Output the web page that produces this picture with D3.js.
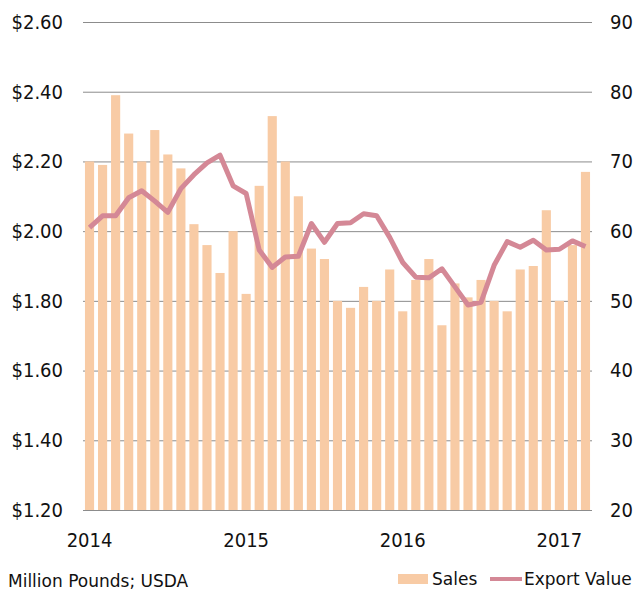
<!DOCTYPE html>
<html>
<head>
<meta charset="utf-8">
<script src="https://d3js.org/d3.v7.min.js"></script>
<style>
  body { margin: 0; background: #fff; }
  text { font-family: "DejaVu Sans Condensed", "Liberation Sans", sans-serif; fill: #111; }
  .legend text { font-family: "DejaVu Sans", sans-serif; }
</style>
</head>
<body>
<svg id="chart"></svg>
<script>
// Monthly data, Jan 2014 .. Mar 2017
var months = d3.range(39).map(function(i) { return new Date(2014, i, 1) })

// Sales, left axis ($)
var sales = [2.20, 2.19, 2.39, 2.28, 2.20, 2.29, 2.22, 2.18, 2.02, 1.96, 1.88, 2.00,
             1.82, 2.13, 2.33, 2.20, 2.10, 1.95, 1.92, 1.80, 1.78, 1.84, 1.80, 1.89,
             1.77, 1.86, 1.92, 1.73, 1.85, 1.81, 1.86, 1.80, 1.77, 1.89, 1.90, 2.06,
             1.80, 1.96, 2.17]

// Export value, right axis
var exportValue = [60.5, 62.2, 62.2, 64.8, 65.8, 64.3, 62.7, 66.1, 68.1, 69.8, 70.9, 66.5,
                   65.4, 57.3, 54.8, 56.3, 56.4, 61.1, 58.4, 61.1, 61.2, 62.5, 62.2, 59.1,
                   55.5, 53.4, 53.3, 54.6, 52.0, 49.4, 49.8, 55.1, 58.5, 57.7, 58.7, 57.3,
                   57.4, 58.6, 57.8]

var leftTicks = [1.2, 1.4, 1.6, 1.8, 2.0, 2.2, 2.4, 2.6]
var rightTicks = [20, 30, 40, 50, 60, 70, 80, 90]
var yearTicks = [2014, 2015, 2016, 2017]

var vis = {
  "width": 637,
  "height": 591,
  "plot": { "left": 83, "right": 592, "top": 22, "bottom": 510 },
  "colors": { "bar": "#f8cba5", "line": "#d48896", "grid": "#8c8c8c" },
  "barpad": 0.3
}

function main() {
  let p = vis.plot
  let svg = d3.select("#chart")
    .attr("width", vis.width)
    .attr("height", vis.height)

  let xScale = d3.scaleBand()
    .domain(d3.range(months.length))
    .range([p.left, p.right])
    .paddingInner(vis.barpad)
    .paddingOuter(vis.barpad / 2)

  let yLeft = d3.scaleLinear().domain([1.2, 2.6]).range([p.bottom, p.top])
  let yRight = d3.scaleLinear().domain([20, 90]).range([p.bottom, p.top])

  // gridlines (from the left axis ticks)
  svg.append("g")
    .attr("transform", "translate(" + p.left + ",0)")
    .call(d3.axisLeft(yLeft).tickValues(leftTicks).tickSize(-(p.right - p.left)).tickFormat(""))
    .call(function(g) { g.select(".domain").remove() })
    .selectAll("line")
    .attr("stroke", vis.colors.grid)

  // bars
  svg.append("g")
    .selectAll("rect")
    .data(sales)
    .enter()
    .append("rect")
    .attr("x", function(d, i) { return xScale(i) })
    .attr("y", function(d) { return yLeft(d) })
    .attr("width", xScale.bandwidth())
    .attr("height", function(d) { return yLeft(1.2) - yLeft(d) })
    .attr("fill", vis.colors.bar)

  // export value line
  let line = d3.line()
    .x(function(d, i) { return xScale(i) + xScale.bandwidth() / 2 })
    .y(function(d) { return yRight(d) })

  svg.append("path")
    .datum(exportValue)
    .attr("d", line)
    .attr("fill", "none")
    .attr("stroke", vis.colors.line)
    .attr("stroke-width", 5)
    .attr("stroke-linejoin", "round")

  // left axis labels
  svg.append("g")
    .attr("transform", "translate(" + (p.left - 20) + ",0)")
    .call(d3.axisLeft(yLeft).tickValues(leftTicks).tickSize(0).tickPadding(0)
      .tickFormat(function(d) { return "$" + d3.format(".2f")(d) }))
    .call(function(g) { g.select(".domain").remove() })
    .selectAll("text")
    .style("font-size", "20px")

  // right axis labels
  svg.append("g")
    .attr("transform", "translate(" + (p.right + 18) + ",0)")
    .call(d3.axisRight(yRight).tickValues(rightTicks).tickSize(0).tickPadding(0))
    .call(function(g) { g.select(".domain").remove() })
    .selectAll("text")
    .style("font-size", "20px")

  // year labels at January of each year
  svg.append("g")
    .attr("transform", "translate(0," + (p.bottom + 23) + ")")
    .call(d3.axisBottom(xScale)
      .tickValues(yearTicks.map(function(y) { return (y - 2014) * 12 }))
      .tickSize(0).tickPadding(0)
      .tickFormat(function(d) { return months[d].getFullYear() }))
    .call(function(g) { g.select(".domain").remove() })
    .selectAll("text")
    .style("font-size", "20px")

  // source note + legend
  let legend = svg.append("g").attr("class", "legend")
  legend.append("text")
    .attr("x", 8)
    .attr("y", 587)
    .style("font-size", "17px")
    .text("Million Pounds; USDA")

  legend.append("rect")
    .attr("x", 398).attr("y", 574).attr("width", 30).attr("height", 10)
    .attr("fill", vis.colors.bar)
  legend.append("text")
    .attr("x", 432).attr("y", 585)
    .style("font-size", "17px")
    .text("Sales")
  legend.append("line")
    .attr("x1", 490).attr("x2", 522).attr("y1", 579).attr("y2", 579)
    .attr("stroke", vis.colors.line).attr("stroke-width", 4)
  legend.append("text")
    .attr("x", 524).attr("y", 585)
    .style("font-size", "17px")
    .text("Export Value")
}

main()
</script>
</body>
</html>
